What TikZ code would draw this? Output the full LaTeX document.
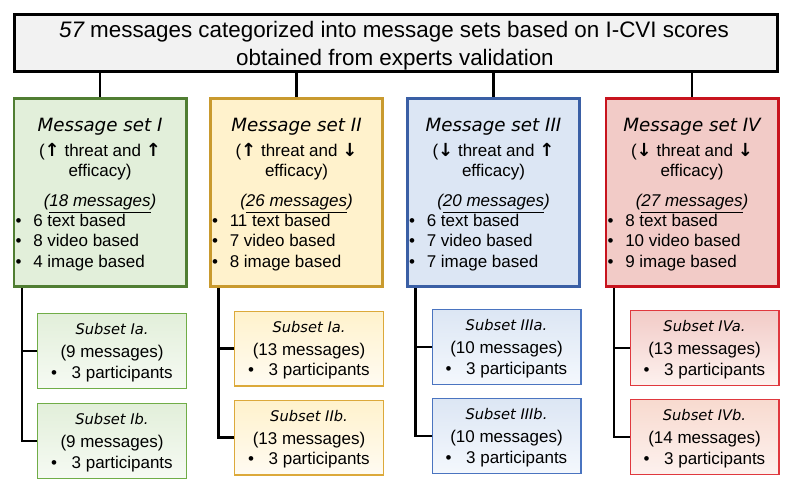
\documentclass[tikz,border=0pt]{standalone}
\usepackage{fontspec}
\setmainfont{Liberation Sans}
\newfontfamily\verdf{DejaVu Sans}
\newfontfamily\arrowf{DejaVu Sans}
\usetikzlibrary{calc}
\definecolor{gB}{HTML}{507E32}\definecolor{gF}{HTML}{E2EFDA}\definecolor{gS}{HTML}{70AD47}\definecolor{gL}{HTML}{F6FAF3}
\definecolor{yB}{HTML}{C99A2E}\definecolor{yF}{HTML}{FFF2CC}\definecolor{yS}{HTML}{DCA93A}\definecolor{yL}{HTML}{FFFBF2}
\definecolor{bB}{HTML}{3A5FA5}\definecolor{bF}{HTML}{DCE6F4}\definecolor{bS}{HTML}{4A74C0}\definecolor{bL}{HTML}{F4F8FD}
\definecolor{rB}{HTML}{C8141E}\definecolor{rF}{HTML}{F2CBC7}\definecolor{rS}{HTML}{E0383E}\definecolor{rL}{HTML}{FDF1EE}
\definecolor{rT}{HTML}{F8DACF}\definecolor{topF}{HTML}{F2F2F2}
\newcommand\up{{\arrowf\bfseries\fontsize{13.5pt}{15pt}\selectfont ↑}}
\newcommand\dn{{\arrowf\bfseries\fontsize{13.5pt}{15pt}\selectfont ↓}}
\tikzset{
  setbox/.style={draw, line width=2pt, minimum width=129.25pt, minimum height=141.25pt, inner sep=0pt},
  subbox/.style={draw, line width=1pt, minimum width=111.5pt, minimum height=56pt, inner sep=0pt},
  conn/.style={draw=black, line width=1.8pt},
  bodytxt/.style={anchor=base, inner sep=0pt, font=\fontsize{12.75pt}{15pt}\selectfont},
  settitle/.style={anchor=base, inner sep=0pt, font=\verdf\itshape\fontsize{13.7pt}{16pt}\selectfont},
  subtitle/.style={anchor=base, inner sep=0pt, font=\verdf\itshape\fontsize{11pt}{13pt}\selectfont},
  toptxt/.style={anchor=base, inner sep=0pt, font=\fontsize{16.8pt}{20pt}\selectfont},
  setI/.style={draw=gB, fill=gF}, subI/.style={draw=gS, top color=gF, bottom color=gL},
  setII/.style={draw=yB, fill=yF}, subII/.style={draw=yS, top color=yF, bottom color=yL},
  setIII/.style={draw=bB, fill=bF}, subIII/.style={draw=bS, top color=bF, bottom color=bL},
  setIV/.style={draw=rB, fill=rF}, subIV/.style={draw=rS, top color=rF, bottom color=rL},
  subIVb/.style={draw=rS, top color=rT, bottom color=rL},
}
% name, cx, style, title, arrows, count, b1, b2, b3
\newcommand\MsgSet[9]{%
  \node[setbox,#3] (#1) at (#2,192.5) {};
  \node[settitle] (#1t) at (#2,131.5) {#4};
  \node[bodytxt] (#1r) at (#2,156) {#5};
  \node[bodytxt] (#1e) at (#2,176.5) {efficacy)};
  \node[bodytxt] (#1c) at (#2,206.5) {\itshape(\underline{#6})};
  \node[bodytxt] (#1pa) at ({#2-81.5},226.5) {•};
  \node[bodytxt,anchor=base west] (#1qa) at ({#2-67},226.5) {#7};
  \node[bodytxt] (#1pb) at ({#2-81.5},246.5) {•};
  \node[bodytxt,anchor=base west] (#1qb) at ({#2-67},246.5) {#8};
  \node[bodytxt] (#1pc) at ({#2-81.5},267) {•};
  \node[bodytxt,anchor=base west] (#1qc) at ({#2-67},267) {#9};
}
% name, cx, cy, style, title, count
\newcommand\SubSet[6]{%
  \node[subbox,#4] (#1) at (#2,#3) {};
  \node[subtitle] (#1t) at (#2,{#3-16.5}) {#5};
  \node[bodytxt] (#1c) at (#2,{#3+6.5}) {(#6)};
  \node[bodytxt] (#1p) at (#2,{#3+27}) {•\hspace{0.85em}3 participants};
}
\begin{document}
\begin{tikzpicture}[x=0.75pt,y=-0.75pt]
\useasboundingbox (0,0) rectangle (794,490);
\node[draw, line width=2pt, fill=topF, minimum width=572.5pt, minimum height=43pt, inner sep=0pt] (top) at (396,43) {};
\node[toptxt] (top1) at (394,37.7) {\itshape 57\upshape{} messages categorized into message sets based on I-CVI scores};
\node[toptxt] (top2) at (395,65) {obtained from experts validation};

\MsgSet{s1}{100}{setI}{Message set I}{(\up{} threat and \up}{18 messages}{6 text based}{8 video based}{4 image based}
\MsgSet{s2}{296.5}{setII}{Message set II}{(\up{} threat and \dn}{26 messages}{11 text based}{7 video based}{8 image based}
\MsgSet{s3}{493.5}{setIII}{Message set III}{(\dn{} threat and \up}{20 messages}{6 text based}{7 video based}{7 image based}
\MsgSet{s4}{692}{setIV}{Message set IV}{(\dn{} threat and \dn}{27 messages}{8 text based}{10 video based}{9 image based}

\SubSet{s1a}{112}{351}{subI}{Subset Ia.}{9 messages}
\SubSet{s1b}{112}{441}{subI}{Subset Ib.}{9 messages}
\SubSet{s2a}{309}{348.5}{subII}{Subset Ia.}{13 messages}
\SubSet{s2b}{309}{437.5}{subII}{Subset IIb.}{13 messages}
\SubSet{s3a}{506.5}{347}{subIII}{Subset IIIa.}{10 messages}
\SubSet{s3b}{506.5}{436}{subIII}{Subset IIIb.}{10 messages}
\SubSet{s4a}{704.5}{348}{subIV}{Subset IVa.}{13 messages}
\SubSet{s4b}{704.5}{437}{subIVb}{Subset IVb.}{14 messages}

\foreach \s in {s1,s2,s3,s4}{
  \draw[conn] (top.south -| \s.north) -- (\s.north);
  \coordinate (\s v) at ([xshift=7pt]\s.south west);
  \draw[conn] (\s v) |- (\s b.west);
  \draw[conn] (\s v |- \s a.west) -- (\s a.west);
}
\end{tikzpicture}
\end{document}
